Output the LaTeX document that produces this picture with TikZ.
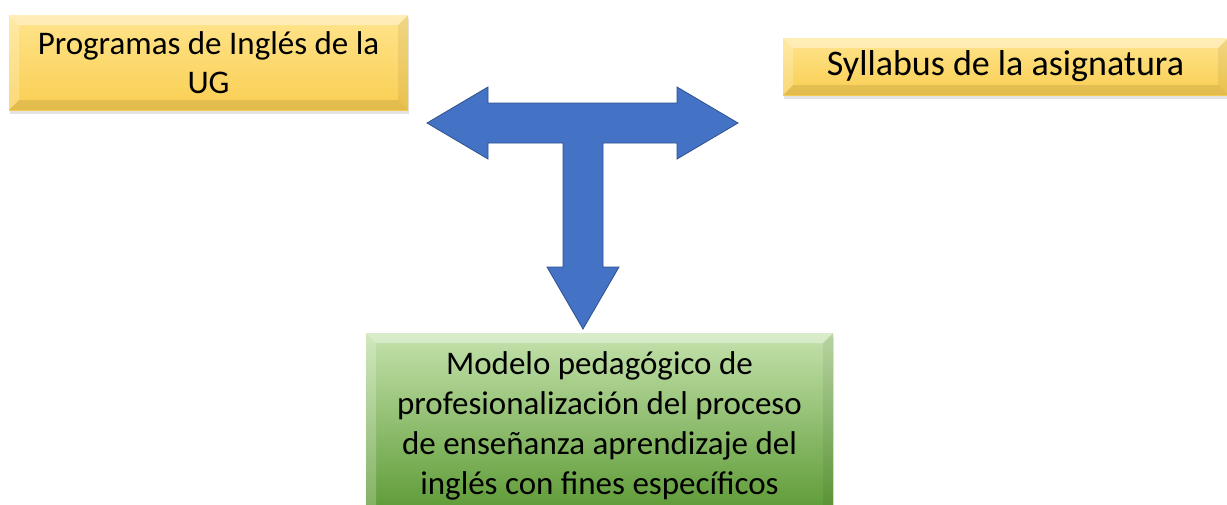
\documentclass[tikz,border=0pt]{standalone}
\usepackage{fontspec}
\setmainfont{Carlito}
\usetikzlibrary{calc,shadows}
\definecolor{goldtop}{RGB}{255,228,140}
\definecolor{goldbot}{RGB}{249,206,82}
\definecolor{greentop}{RGB}{196,226,172}
\definecolor{greenbot}{RGB}{90,152,50}
\definecolor{arrowblue}{RGB}{68,114,196}
\definecolor{arrowedge}{RGB}{47,82,143}
\tikzset{
  bevel/.style={path picture={
    \coordinate (bnw) at (path picture bounding box.north west);
    \coordinate (bne) at (path picture bounding box.north east);
    \coordinate (bsw) at (path picture bounding box.south west);
    \coordinate (bse) at (path picture bounding box.south east);
    \fill[white,opacity=.38] (bnw) -- (bne) -- ($(bne)+(-#1,#1)$) -- ($(bnw)+(#1,#1)$) -- cycle;
    \fill[white,opacity=.22] (bnw) -- ($(bnw)+(#1,#1)$) -- ($(bsw)+(#1,-#1)$) -- (bsw) -- cycle;
    \fill[black,opacity=.06] (bne) -- ($(bne)+(-#1,#1)$) -- ($(bse)+(-#1,-#1)$) -- (bse) -- cycle;
    \fill[black,opacity=.09] (bsw) -- ($(bsw)+(#1,-#1)$) -- ($(bse)+(-#1,-#1)$) -- (bse) -- cycle;
  }},
  goldbox/.style={inner sep=0pt, align=center, top color=goldtop, bottom color=goldbot,
    bevel=10, drop shadow={opacity=0.22, shadow xshift=1pt, shadow yshift=-4pt},
    font=\fontsize{33}{39}\selectfont},
  greenbox/.style={inner sep=0pt, align=center, top color=greentop, bottom color=greenbot,
    bevel=10, drop shadow={opacity=0.22, shadow xshift=1pt, shadow yshift=-4pt},
    font=\fontsize{33}{40}\selectfont},
  tarrow/.style={fill=arrowblue, draw=arrowedge, line width=0.8pt, line join=miter}
}
\begin{document}
\begin{tikzpicture}[x=1pt,y=-1pt]
\useasboundingbox (0,0) rectangle (1227,504);
\fill[white] (0,0) rectangle (1227,504);
\node[goldbox, minimum width=399pt, minimum height=95pt] (ug) at (208.5,62.5) {Programas de Inglés de la\\UG};
\node[goldbox, minimum width=445pt, minimum height=57pt, font=\fontsize{36}{40}\selectfont] (syl) at (1005.5,66.5) {Syllabus de la asignatura};
\node[greenbox, minimum width=467pt, minimum height=185pt] (mod) at (599.5,425.5) {Modelo pedagógico de\\profesionalización del proceso\\de enseñanza aprendizaje del\\inglés con fines específicos};
\coordinate (tc) at (583,123);
\draw[tarrow] (427,123) -- (488,87) -- (488,103) -- (677,103) -- (677,87) -- (738,123)
  -- (677,159) -- (677,143) -- (603,143) -- (603,267) -- (619,267) -- (583,329)
  -- (547,267) -- (563,267) -- (563,143) -- (488,143) -- (488,159) -- cycle;
\end{tikzpicture}
\end{document}
